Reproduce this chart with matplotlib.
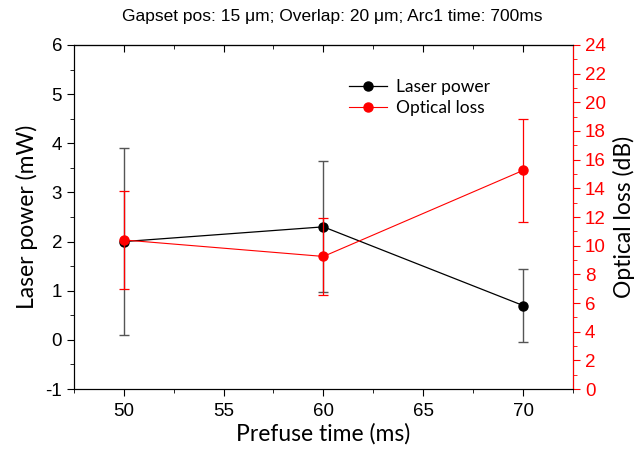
import numpy as np
import matplotlib.pyplot as plt
from matplotlib.ticker import MultipleLocator
from matplotlib.lines import Line2D

plt.rcParams['font.family'] = ['Liberation Sans', 'DejaVu Sans']
plt.rcParams['axes.unicode_minus'] = False

# data
prefuse = [50, 60, 70]
laser_power = [2.0, 2.3, 0.7]
laser_err = [1.9, 1.33, 0.75]
optical_loss = [10.4, 9.25, 15.25]
loss_err = [3.4, 2.7, 3.6]

label_font = 'Lato'

fig = plt.figure(figsize=(6.42, 4.54), dpi=100)
ax = fig.add_axes([0.115, 0.143, 0.7775, 0.758])
ax2 = ax.twinx()

# laser power (left axis)
ax.errorbar(prefuse, laser_power, yerr=laser_err, color='black', lw=0.9,
            marker='o', ms=6.5, ecolor='#555555', elinewidth=1, capsize=3.5,
            capthick=1)
ax.set_xlim(47.5, 72.5)
ax.set_ylim(-1, 6)
ax.xaxis.set_major_locator(MultipleLocator(5))
ax.xaxis.set_minor_locator(MultipleLocator(2.5))
ax.yaxis.set_major_locator(MultipleLocator(1))
ax.yaxis.set_minor_locator(MultipleLocator(0.5))
ax.tick_params(which='both', direction='out', labelsize=13.5)
ax.tick_params(which='major', length=5)
ax.tick_params(which='minor', length=3)
ax.tick_params(axis='x', pad=5)
ax.set_xlabel('Prefuse time (ms)', fontsize=16.5, family=label_font, labelpad=2)
ax.set_ylabel('Laser power (mW)', fontsize=16.5, family=label_font, labelpad=5)

# top ticks go inward
secx = ax.secondary_xaxis('top')
secx.xaxis.set_major_locator(MultipleLocator(5))
secx.xaxis.set_minor_locator(MultipleLocator(2.5))
secx.tick_params(axis='x', which='both', direction='in', labeltop=False)
secx.tick_params(axis='x', which='major', length=5)
secx.tick_params(axis='x', which='minor', length=3)

# optical loss (right axis)
ax2.errorbar(prefuse, optical_loss, yerr=loss_err, color='red', lw=0.8,
             marker='o', ms=6.5, ecolor='red', elinewidth=0.9, capsize=3.5,
             capthick=0.9)
ax2.set_ylim(0, 24)
ax2.yaxis.set_major_locator(MultipleLocator(2))
ax2.yaxis.set_minor_locator(MultipleLocator(1))
ax2.tick_params(axis='y', which='both', direction='out', colors='red', labelsize=13.5)
ax2.tick_params(axis='y', which='major', length=5)
ax2.tick_params(axis='y', which='minor', length=3)
ax2.spines['right'].set_color('red')
ax2.set_ylabel('Optical loss (dB)', fontsize=16.5, family=label_font, labelpad=5)

handles = [Line2D([], [], color='black', lw=0.9, marker='o', ms=6.5),
           Line2D([], [], color='red', lw=0.8, marker='o', ms=6.5)]
ax2.legend(handles, ['Laser power', 'Optical loss'], loc='upper left',
           bbox_to_anchor=(0.52, 0.945), frameon=False, handlelength=2.2,
           handletextpad=0.5, labelspacing=0.25,
           prop={'family': label_font, 'size': 12.5})

fig.text(0.517, 0.963, 'Gapset pos: 15 \u03bcm; Overlap: 20 \u03bcm; Arc1 time: 700ms',
         ha='center', va='center', fontsize=12.5)

fig.savefig('out.png', dpi=100)
